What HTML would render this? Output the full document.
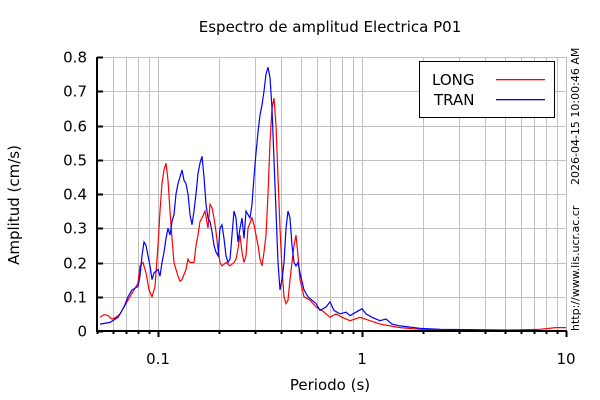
<!DOCTYPE html>
<html><head><meta charset="utf-8"><style>
body{margin:0;background:#fff;width:600px;height:400px;overflow:hidden}
svg{display:block}
text{font-family:"DejaVu Sans","Liberation Sans",sans-serif;fill:#000}
</style></head><body>
<svg id="s" width="600" height="400" xmlns="http://www.w3.org/2000/svg">
<g id="grid" stroke="#c0c0c0" stroke-width="1"></g>
<g id="ticks" stroke="#000" stroke-width="2"></g>
<polyline id="red" fill="none" stroke="#ff0000" stroke-width="1.2"/>
<polyline id="blue" fill="none" stroke="#0000ff" stroke-width="1.2"/>
<rect x="96" y="57" width="2" height="275" fill="#000"/>
<rect x="96" y="330" width="471" height="2" fill="#000"/>
<rect x="419.5" y="61.5" width="135" height="56" fill="#fff" stroke="#000" stroke-width="1"/>
<text x="432" y="85" font-size="15">LONG</text>
<text x="434" y="105" font-size="15">TRAN</text>
<rect x="496" y="79" width="49" height="1.3" fill="#ff0000"/>
<rect x="496" y="99" width="49" height="1.3" fill="#0000ff"/>
<text x="330" y="32" font-size="15" text-anchor="middle">Espectro de amplitud Electrica P01</text>
<text x="330" y="390" font-size="15" text-anchor="middle">Periodo (s)</text>
<text transform="translate(19,205) rotate(-90)" font-size="15" text-anchor="middle">Amplitud (cm/s)</text>
<text transform="translate(579,185) rotate(-90)" font-size="11" text-anchor="start">2026-04-15 10:00:46 AM</text>
<text transform="translate(579,331) rotate(-90)" font-size="11" text-anchor="start">http://www.lis.ucr.ac.cr</text>
<g id="lab" font-size="15"></g>
</svg>
<script>
var NS="http://www.w3.org/2000/svg";
function X(v){return 158+204*Math.log10(v/0.1);}
function Y(v){return 331-v*342.5;}
var g=document.getElementById('grid'),t=document.getElementById('ticks'),lab=document.getElementById('lab');
function ln(p,x1,y1,x2,y2){var l=document.createElementNS(NS,'line');l.setAttribute('x1',x1);l.setAttribute('y1',y1);l.setAttribute('x2',x2);l.setAttribute('y2',y2);p.appendChild(l);}
function tx(s,x,y,a){var e=document.createElementNS(NS,'text');e.setAttribute('x',x);e.setAttribute('y',y);e.setAttribute('text-anchor',a);e.textContent=s;lab.appendChild(e);}
for(var i=1;i<=8;i++){var y=Math.round(Y(i/10))+0.5;ln(g,97,y,566,y);}
for(var i=0;i<=8;i++){var y=Math.round(Y(i/10))+0.5;ln(t,97,y,103,y);tx((i==0?'0':(i/10).toString()),87,y+5,'end');}
[0.01,0.1,1].forEach(function(d){for(var k=1;k<10;k++){var v=d*k;if(v<0.05)continue;var x=Math.round(X(v))+0.5;ln(g,x,57,x,331);ln(t,x,331,x,k==1?337:334);}});
var x10=Math.round(X(10))+0.5;ln(g,x10,57,x10,331);ln(t,x10,331,x10,337);
tx('0.1',158,364,'middle');tx('1',362,364,'middle');tx('10',566,364,'middle');
var R=[100,.04,104,.048,108,.045,112,.035,116,.04,120,.05,126,.08,132,.11,136,.13,138,.14,140,.19,143,.2,146,.17,149,.12,152,.1,155,.13,158,.25,160,.35,162,.43,164,.47,166,.49,168,.44,170,.35,172,.27,174,.2,176,.18,178,.16,180,.145,182,.15,186,.18,188,.21,190,.2,194,.2,196,.25,198,.28,200,.32,202,.33,205,.35,208,.3,210,.37,212,.36,214,.33,216,.29,218,.24,220,.2,222,.19,226,.2,230,.19,234,.2,236,.21,238,.24,240,.28,242,.23,244,.2,246,.22,248,.3,252,.33,254,.31,258,.25,260,.21,262,.19,264,.23,266,.28,268,.4,270,.55,272,.65,274,.68,276,.6,278,.45,280,.3,282,.18,284,.1,286,.08,288,.09,290,.15,292,.2,294,.25,296,.28,298,.22,300,.15,304,.1,310,.09,316,.07,322,.06,330,.04,336,.05,342,.04,350,.03,360,.04,370,.03,380,.02,400,.01,420,.005,500,.002,540,.005,556,.01,566,.01];
var B=[100,.02,110,.025,118,.04,124,.07,128,.1,132,.12,138,.13,140,.16,142,.22,144,.26,146,.25,148,.22,150,.19,152,.15,154,.17,158,.18,160,.16,162,.2,164,.23,166,.27,168,.3,170,.28,172,.32,174,.34,176,.4,178,.43,180,.45,182,.47,184,.44,186,.43,188,.4,190,.34,192,.31,194,.35,196,.4,198,.46,200,.49,202,.51,204,.45,206,.37,208,.33,210,.32,212,.29,214,.25,216,.23,218,.22,220,.3,222,.31,224,.27,226,.22,228,.2,230,.21,232,.28,234,.35,236,.33,238,.26,240,.3,242,.33,244,.27,246,.35,248,.34,250,.33,252,.37,254,.45,256,.52,258,.58,260,.63,262,.66,264,.7,266,.75,268,.77,270,.74,272,.65,274,.5,276,.35,278,.2,280,.12,282,.15,284,.2,286,.3,288,.35,290,.33,292,.25,294,.2,296,.19,298,.2,300,.17,304,.12,308,.1,312,.09,316,.08,320,.06,326,.07,330,.085,334,.06,340,.05,346,.055,350,.045,356,.055,362,.065,366,.05,372,.04,380,.03,386,.035,392,.02,400,.015,420,.008,440,.005,500,.003,566,0];
function pts(a){var s=[];for(var i=0;i<a.length;i+=2)s.push(a[i]+','+Y(a[i+1]).toFixed(1));return s.join(' ');}
document.getElementById('red').setAttribute('points',pts(R));
document.getElementById('blue').setAttribute('points',pts(B));
</script>
</body></html>
